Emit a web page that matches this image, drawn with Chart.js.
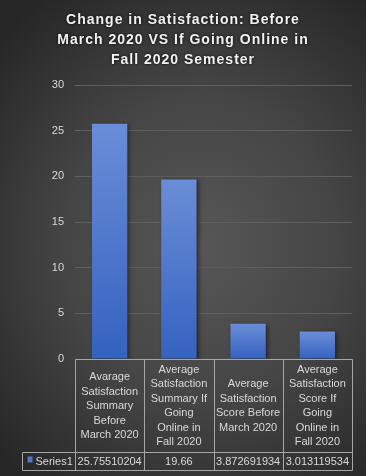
<!DOCTYPE html>
<html>
<head>
<meta charset="utf-8">
<script src="https://cdn.jsdelivr.net/npm/chart.js@4.4.1/dist/chart.umd.min.js"></script>
<style>
  html, body { margin: 0; padding: 0; background: #2a2a2a; }
  #wrap {
    width: 366px;
    height: 476px;
    background: radial-gradient(ellipse 75% 65% at 55% 52%, #575757 0%, #454545 50%, #262626 100%);
  }
</style>
</head>
<body>
<div id="wrap"><canvas id="chart"></canvas></div>
<script>
const titleLines = ['Change in Satisfaction: Before', 'March 2020 VS If Going Online in', 'Fall 2020 Semester'];

// header cells of the data table, wrapped as in the original
const categories = [
  ['Avarage', 'Satisfaction', 'Summary', 'Before', 'March 2020'],
  ['Average', 'Satisfaction', 'Summary If', 'Going', 'Online in', 'Fall 2020'],
  ['Average', 'Satisfaction', 'Score Before', 'March 2020'],
  ['Average', 'Satisfaction', 'Score If', 'Going', 'Online in', 'Fall 2020']
];
const seriesName = 'Series1';
const series1 = [25.75510204, 19.66, 3.872691934, 3.013119534];
const yTicks = [0, 5, 10, 15, 20, 25, 30];

const textColor = '#d9d9d9';
const lineColor = '#a6a6a6';
const font = '"Liberation Sans", Arial, sans-serif';

// title with a bit of letter spacing and glow, like the Excel one
const titleStyle = {
  id: 'titleStyle',
  afterInit(chart) {
    const tb = chart.titleBlock;
    if (!tb) return;
    const drawTitle = tb.draw;
    tb.draw = function (area) {
      const c = this.ctx;
      c.save();
      c.letterSpacing = '1px';
      c.shadowColor = 'rgba(0,0,0,0.9)';
      c.shadowBlur = 3;
      drawTitle.call(this, area);
      c.restore();
    };
  }
};

// soft drop shadow under the bars
const barShadow = {
  id: 'barShadow',
  beforeDatasetsDraw(chart) {
    const ctx = chart.ctx;
    ctx.save();
    ctx.shadowColor = 'rgba(0,0,0,0.45)';
    ctx.shadowBlur = 4;
    ctx.shadowOffsetX = 2;
    ctx.shadowOffsetY = 1;
  },
  afterDatasetsDraw(chart) {
    chart.ctx.restore();
  }
};

// data table under the plot
const dataTable = {
  id: 'dataTable',
  afterDraw(chart) {
    const { ctx, chartArea } = chart;
    const x = chart.scales.x;
    const half = (x.getPixelForValue(1) - x.getPixelForValue(0)) / 2;
    const px = v => Math.round(v) + 0.5;

    const top = px(chartArea.bottom);
    const headBottom = top + 93;
    const rowBottom = headBottom + 18;
    const left = px(chartArea.left - 53);
    const right = px(x.getPixelForValue(categories.length - 1) + half);
    const edges = categories.map((c, i) => px(x.getPixelForValue(i) - half));
    edges.push(right);

    ctx.save();
    ctx.strokeStyle = lineColor;
    ctx.lineWidth = 1;
    ctx.beginPath();
    ctx.moveTo(edges[0], top); ctx.lineTo(right, top);
    ctx.moveTo(left, headBottom); ctx.lineTo(right, headBottom);
    ctx.moveTo(left, rowBottom); ctx.lineTo(right, rowBottom);
    ctx.moveTo(left, headBottom); ctx.lineTo(left, rowBottom);
    edges.forEach(e => { ctx.moveTo(e, top); ctx.lineTo(e, rowBottom); });
    ctx.stroke();

    ctx.fillStyle = textColor;
    ctx.font = '11px ' + font;
    ctx.textAlign = 'center';
    ctx.textBaseline = 'middle';
    const lh = 14.5;
    const mid = (top + headBottom) / 2;
    categories.forEach((lines, i) => {
      const cx = x.getPixelForValue(i);
      const y0 = mid - (lines.length - 1) * lh / 2;
      lines.forEach((t, j) => ctx.fillText(t, cx, y0 + j * lh));
      ctx.fillText(String(series1[i]), cx, (headBottom + rowBottom) / 2 + 0.5);
    });

    // legend key + series name
    ctx.fillStyle = '#4a78d2';
    ctx.fillRect(left + 5, headBottom + 4, 5, 6);
    ctx.fillStyle = textColor;
    ctx.textAlign = 'left';
    ctx.fillText(seriesName, left + 13, (headBottom + rowBottom) / 2 + 0.5);
    ctx.restore();
  }
};

const chart = new Chart(document.getElementById('chart'), {
  type: 'bar',
  data: {
    labels: categories.map(c => c.join(' ')),
    datasets: [{
      label: seriesName,
      data: series1,
      barPercentage: 0.51,
      categoryPercentage: 1,
      backgroundColor: (context) => {
        const y = context.chart.scales.y;
        if (!y || context.raw === undefined) return '#4a78d2';
        const top = y.getPixelForValue(context.raw);
        const bottom = y.getPixelForValue(0);
        if (!isFinite(top) || !isFinite(bottom) || top === bottom) return '#4a78d2';
        const g = context.chart.ctx.createLinearGradient(0, top, 0, bottom);
        g.addColorStop(0, '#6a8dd7');
        g.addColorStop(1, '#3562c0');
        return g;
      }
    }]
  },
  options: {
    responsive: true,
    maintainAspectRatio: false,
    animation: false,
    events: [],
    // equal side padding keeps the title centred on the page
    layout: { padding: { left: 14, right: 14, top: 0, bottom: 117 } },
    scales: {
      x: {
        display: false
      },
      y: {
        min: yTicks[0],
        max: yTicks[yTicks.length - 1],
        border: { display: false },
        grid: { color: '#5e5e5e', drawTicks: false },
        ticks: {
          stepSize: yTicks[1] - yTicks[0],
          padding: 11,
          color: textColor,
          font: { family: font, size: 11 }
        },
        afterFit(scale) { scale.width = 61; }
      }
    },
    plugins: {
      legend: { display: false },
      tooltip: { enabled: false },
      title: {
        display: true,
        text: titleLines,
        color: '#f2f2f2',
        font: { family: font, size: 14, weight: 'bold', lineHeight: 20 / 14 },
        padding: { top: 10, bottom: 15 }
      }
    }
  },
  plugins: [titleStyle, barShadow, dataTable]
});
</script>
</body>
</html>
